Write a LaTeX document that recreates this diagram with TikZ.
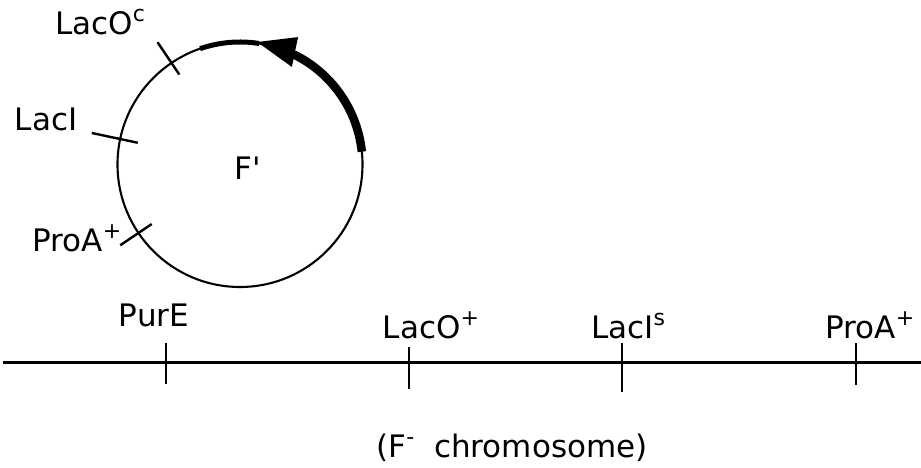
\documentclass[tikz,border=0pt]{standalone}
\usepackage{fontspec}
\setmainfont{DejaVu Sans}
\usetikzlibrary{positioning}

% Raised gene superscript
\newcommand\genesup[1]{\raisebox{0.45em}{\fontsize{22}{24}\selectfont #1}}

\begin{document}
\begin{tikzpicture}[x=1pt,y=1pt,
  lbl/.style={font=\fontsize{31}{34}\selectfont, inner sep=0pt, anchor=base},
  mark line/.style={line width=2.4pt}]
\useasboundingbox (0,0) rectangle (921,468);

% Radius of the F' plasmid
\def\r{122.5}
\coordinate (fc) at (240,303.5);
\draw[line width=2.1pt] (fc) circle (\r);
\node[lbl] (fprime) at (248,288) {F\textquotesingle};

% Thick arc with arrow head (counter-clockwise)
\draw[line width=8.5pt] ([shift={(6:\r)}]fc) arc (6:64:\r);
\fill ([shift={(65.5:140)}]fc) -- ([shift={(62:110.5)}]fc) -- ([shift={(82:123.7)}]fc) -- cycle;
\draw[line width=5pt] ([shift={(81:\r)}]fc) arc (81:109:\r);

% Marks on the plasmid (angle / inside / outside)
\foreach \a/\i/\o in {124/14/25, 168/18/29, 214/16/22}
{
    \draw[mark line] ([shift={(\a:\r-\i)}]fc) -- ([shift={(\a:\r+\o)}]fc);
}

\node[lbl] (lacoc) at (100,433) {LacO\genesup{c}};
\node[lbl] (laci) at (46,337) {LacI};
\node[lbl] (proaf) at (77,216) {ProA\genesup{+}};

% Chromosome
\coordinate (cl) at (3,105.5);
\coordinate (cr) at (921,105.5);
\draw[line width=2.6pt] (cl) -- (cr);

% Marks on the chromosome (x / top / bottom)
\foreach \x/\t/\b in {166/125/84, 409/121/79, 622/125/76, 856/125/83}
{
    \draw[mark line] (\x,\t) -- (\x,\b);
}

\node[lbl] (pure) at (154,141) {PurE};
\node[lbl] (laco) at (431,129) {LacO\genesup{+}};
\node[lbl] (lacis) at (628,129) {LacI\genesup{s}};
\node[lbl] (proa) at (870,129) {ProA\genesup{+}};

\node[lbl] (chrom) at (512,10) {(F\genesup{-}\ \ chromosome)};

\end{tikzpicture}
\end{document}
